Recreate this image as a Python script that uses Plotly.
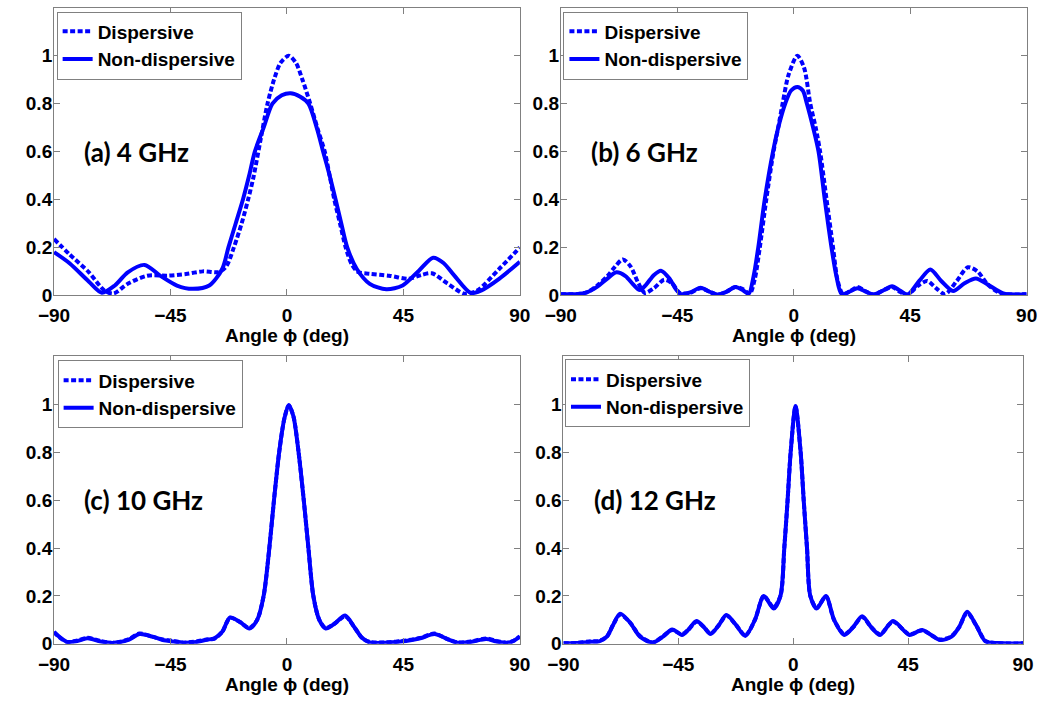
import plotly.graph_objects as go

# ---------------- data: normalised array factor vs. angle ----------------
# (a) 4 GHz
ang_a_disp = [-90, -84, -76.5, -70.5, -67, -61.5, -54, -46, -39, -32.5, -26.5, -23.5, -20.5, -17.5, -15,
              -13, -10, -7.5, -5, -2.5, 0.7, 3.5, 6, 9, 12, 14.6, 16.5, 18.3, 20.5, 22.7, 25, 27.5, 32,
              39.5, 47, 52, 56, 62, 68.5, 73.5, 82, 90]
val_a_disp = [0.235, 0.171, 0.096, 0.02, 0.008, 0.048, 0.082, 0.082, 0.089, 0.1, 0.097, 0.12, 0.2, 0.3, 0.4,
              0.49, 0.66, 0.8, 0.9, 0.97, 1.0, 0.97, 0.9, 0.8, 0.69, 0.6, 0.5, 0.4, 0.3, 0.2, 0.13, 0.097, 0.09,
              0.082, 0.069, 0.085, 0.092, 0.05, 0.007, 0.02, 0.11, 0.2]
ang_a_nond = [-90, -84, -76.5, -71.5, -66.5, -61.5, -55, -49, -42.5, -36.5, -30, -25, -22.6, -19.8, -17, -14.6,
              -12.4, -9, -5.6, -2, 1.4, 5, 8.3, 11.5, 14, 16.5, 18.8, 21, 23.3, 27, 32, 38.4, 44.7, 51, 56.5,
              60.5, 64.7, 71, 75, 82, 90]
val_a_nond = [0.18, 0.134, 0.057, 0.011, 0.041, 0.096, 0.127, 0.082, 0.041, 0.027, 0.041, 0.11, 0.2, 0.3, 0.4, 0.5,
              0.6, 0.7, 0.8, 0.835, 0.844, 0.83, 0.8, 0.7, 0.6, 0.5, 0.4, 0.3, 0.2, 0.11, 0.048, 0.025, 0.041, 0.103,
              0.157, 0.135, 0.082, 0.01, 0.02, 0.069, 0.14]

# (b) 6 GHz
ang_b_disp = [-90, -84, -80, -76, -72, -69, -66, -63, -60, -57.5, -54, -50, -47, -44, -40, -36, -32.5, -29.4,
              -26, -22.5, -19.5, -17, -15, -13.1, -10.6, -7.8, -6, -4.3, -2, 1.4, 4, 6.4, 8.5, 10.2, 12.7, 15.2,
              17, 19, 21.5, 24.6, 28, 31, 34.5, 38, 41, 44, 48, 51.6, 55, 58.5, 63, 67.3, 71, 75, 80, 90]
val_b_disp = [0.005, 0.005, 0.012, 0.04, 0.08, 0.12, 0.15, 0.12, 0.05, 0.01, 0.03, 0.065, 0.05, 0.01, 0.01, 0.03,
              0.015, 0.003, 0.015, 0.035, 0.025, 0.006, 0.07, 0.2, 0.4, 0.6, 0.7, 0.8, 0.92, 1.0, 0.95, 0.8, 0.7,
              0.6, 0.4, 0.2, 0.06, 0.005, 0.015, 0.035, 0.015, 0.003, 0.02, 0.035, 0.015, 0.003, 0.04, 0.06, 0.03,
              0.005, 0.06, 0.117, 0.1, 0.045, 0.008, 0.005]
ang_b_nond = [-90, -84, -80, -76, -72, -68.5, -65, -62, -59.5, -57, -54, -51.3, -48, -45.5, -43.5, -40, -36, -32.5,
              -29.4, -26, -22.5, -19.5, -17.4, -15.5, -13.7, -11.2, -8, -5.5, -3.3, -1, 1.4, 3.5, 5.1, 7.5, 9.6,
              12, 14.6, 16.5, 18.5, 21.5, 24.6, 28, 31, 34.5, 38, 41, 44, 48.5, 52.8, 57, 61.6, 66, 70.4, 75, 81, 90]
val_b_nond = [0.005, 0.005, 0.012, 0.035, 0.07, 0.096, 0.08, 0.045, 0.022, 0.045, 0.085, 0.103, 0.07, 0.025, 0.005,
              0.012, 0.032, 0.015, 0.003, 0.015, 0.035, 0.02, 0.006, 0.08, 0.2, 0.4, 0.6, 0.72, 0.8, 0.855, 0.87,
              0.855, 0.8, 0.7, 0.6, 0.4, 0.2, 0.08, 0.006, 0.015, 0.03, 0.015, 0.003, 0.02, 0.038, 0.02, 0.003,
              0.06, 0.108, 0.06, 0.018, 0.05, 0.07, 0.045, 0.008, 0.005]

# (c) 10 GHz
ang_c_disp = [-90, -88, -85, -81, -77, -72, -67, -61, -57, -52, -48, -44, -40, -35, -31, -28, -25, -22, -18, -14.5,
              -11.5, -9, -6.8, -5, -3, -1, 0.7, 2.5, 4.5, 6.5, 8.3, 10.2, 12.5, 15, 18.5, 22.5, 26, 29, 32, 38, 46,
              51.5, 57, 62, 66, 71, 77, 81, 85, 88, 90]
val_c_disp = [0.05, 0.028, 0.008, 0.014, 0.025, 0.012, 0.004, 0.02, 0.043, 0.03, 0.018, 0.012, 0.005, 0.01, 0.018,
              0.022, 0.05, 0.108, 0.09, 0.066, 0.1, 0.2, 0.4, 0.6, 0.8, 0.94, 0.995, 0.95, 0.8, 0.6, 0.4, 0.2, 0.1,
              0.066, 0.085, 0.115, 0.07, 0.025, 0.008, 0.006, 0.014, 0.025, 0.043, 0.02, 0.006, 0.01, 0.022, 0.012,
              0.005, 0.015, 0.032]
ang_c_nond = [-90, -88, -85, -81, -77, -72, -67, -61, -57, -52, -48, -44, -40, -35, -31, -28, -25, -22, -18, -14.5,
              -11.5, -9, -6.8, -5, -3, -1, 0.7, 2.5, 4.5, 6.5, 8.3, 10.2, 12.5, 15, 18.5, 22.5, 26, 29, 32, 38, 46,
              51.5, 57, 62, 66, 71, 77, 81, 85, 88, 90]
val_c_nond = [0.048, 0.03, 0.008, 0.012, 0.023, 0.01, 0.004, 0.018, 0.041, 0.03, 0.016, 0.01, 0.005, 0.008, 0.017,
              0.023, 0.05, 0.11, 0.09, 0.064, 0.1, 0.2, 0.4, 0.6, 0.8, 0.94, 0.997, 0.95, 0.8, 0.6, 0.4, 0.2, 0.1,
              0.064, 0.085, 0.118, 0.07, 0.025, 0.006, 0.005, 0.012, 0.023, 0.041, 0.02, 0.005, 0.008, 0.02, 0.01,
              0.004, 0.015, 0.03]

# (d) 12 GHz
ang_d_disp = [-90, -85, -80, -76, -73, -70.5, -67.8, -64, -60, -55, -51, -47.4, -43.6, -41, -37.9, -35, -32.4, -29,
              -26.2, -22.5, -18.8, -15, -11.5, -7.7, -5, -3.5, -2.2, -1, 0.9, 2.9, 4.1, 5.4, 6.7, 9.2, 12.8, 16, 20,
              23.5, 27, 30.5, 34, 39.1, 45.5, 50.5, 57.5, 62, 65, 68.1, 71.5, 75.3, 80, 90]
val_d_disp = [0.002, 0.004, 0.01, 0.012, 0.03, 0.08, 0.122, 0.09, 0.032, 0.006, 0.032, 0.058, 0.04, 0.06, 0.092,
              0.07, 0.043, 0.08, 0.118, 0.08, 0.035, 0.1, 0.2, 0.152, 0.2, 0.4, 0.6, 0.8, 0.99, 0.8, 0.6, 0.4, 0.2,
              0.15, 0.198, 0.1, 0.04, 0.07, 0.112, 0.07, 0.04, 0.092, 0.04, 0.056, 0.018, 0.032, 0.07, 0.13, 0.08,
              0.012, 0.003, 0.002]
ang_d_nond = [-90, -85, -80, -76, -73, -70.5, -67.8, -64, -60, -55, -51, -47.4, -43.6, -41, -37.9, -35, -32.4, -29,
              -26.2, -22.5, -18.8, -15, -11.5, -7.7, -5, -3.5, -2.2, -1, 0.9, 2.9, 4.1, 5.4, 6.7, 9.2, 12.8, 16, 20,
              23.5, 27, 30.5, 34, 39.1, 45.5, 50.5, 57.5, 62, 65, 68.1, 71.5, 75.3, 80, 90]
val_d_nond = [0.002, 0.003, 0.008, 0.01, 0.03, 0.08, 0.126, 0.09, 0.03, 0.005, 0.03, 0.06, 0.037, 0.06, 0.095,
              0.07, 0.041, 0.08, 0.12, 0.08, 0.033, 0.1, 0.2, 0.147, 0.2, 0.4, 0.6, 0.8, 0.993, 0.8, 0.6, 0.4, 0.2,
              0.147, 0.2, 0.1, 0.037, 0.07, 0.115, 0.07, 0.037, 0.095, 0.037, 0.058, 0.016, 0.03, 0.07, 0.134, 0.08,
              0.01, 0.003, 0.002]

panel_labels = ["(a) 4 GHz", "(b) 6 GHz", "(c) 10 GHz", "(d) 12 GHz"]
series_names = ["Dispersive", "Non-dispersive"]
x_ticks = [-90, -45, 0, 45, 90]
y_ticks = [0, 0.2, 0.4, 0.6, 0.8, 1]
y_tick_text = ["0", "0.2", "0.4", "0.6", "0.8", "1"]
x_title = "Angle ϕ (deg)"

# ---------------- layout geometry ----------------
W, H = 1062, 707
panels = [
    # (x0, x1, ytop, ybottom) in pixels
    (39, 517, 8, 300),
    (559, 1037, 8, 300),
    (39, 517, 362, 654),
    (561.7, 1033.3, 362, 654),
]
legend_pos = [(41.7, 11.7), (561.7, 11.7), (42.7, 366), (563.3, 365)]
data = [
    (ang_a_disp, val_a_disp, ang_a_nond, val_a_nond),
    (ang_b_disp, val_b_disp, ang_b_nond, val_b_nond),
    (ang_c_disp, val_c_disp, ang_c_nond, val_c_nond),
    (ang_d_disp, val_d_disp, ang_d_nond, val_d_nond),
]

BLUE = "#0000ff"
FRAME = "#808080"
TICK_FONT = dict(family="Liberation Sans, Arial", size=19, color="black", weight="bold")
LABEL_FONT = dict(family="Lato, Open Sans, sans-serif", size=26, color="black", weight="bold")

fig = go.Figure()
layout = dict(
    width=W, height=H, margin=dict(l=0, r=0, t=0, b=0),
    paper_bgcolor="white", plot_bgcolor="white",
    annotations=[], showlegend=True,
)

for i, ((x0, x1, yt, yb), (xd, yd, xn, yn)) in enumerate(zip(panels, data)):
    n = "" if i == 0 else str(i + 1)
    xa, ya = "x" + n, "y" + n
    lg = "legend" + n
    fig.add_trace(go.Scatter(
        x=xd, y=yd, mode="lines", name=series_names[0], xaxis=xa, yaxis=ya, legend=lg,
        line=dict(color=BLUE, width=4, dash="5px,2.5px", shape="spline", smoothing=0.8),
    ))
    fig.add_trace(go.Scatter(
        x=xn, y=yn, mode="lines", name=series_names[1], xaxis=xa, yaxis=ya, legend=lg,
        line=dict(color=BLUE, width=4, shape="spline", smoothing=0.8),
    ))
    axis_common = dict(
        showline=True, linecolor=FRAME, linewidth=1, mirror="ticks",
        ticks="inside", ticklen=6, tickcolor=FRAME, tickwidth=1,
        showgrid=False, zeroline=False, tickfont=TICK_FONT, fixedrange=True,
    )
    layout["xaxis" + n] = dict(
        axis_common, domain=[x0 / W, x1 / W], range=[-90, 90],
        tickmode="array", tickvals=x_ticks, anchor=ya, ticklabelstandoff=3,
    )
    layout["yaxis" + n] = dict(
        axis_common, domain=[1 - yb / H, 1 - yt / H], range=[0, 1.2],
        tickmode="array", tickvals=y_ticks, ticktext=y_tick_text, anchor=xa,
        ticklabelstandoff=-3,
    )
    lx, ly = legend_pos[i]
    layout[lg] = dict(
        x=lx / W, y=1 - ly / H, xanchor="left", yanchor="top",
        bgcolor="white", bordercolor=FRAME, borderwidth=1,
        font=dict(family="Liberation Sans, Arial", size=19, color="black", weight="bold"),
        tracegroupgap=0, itemwidth=30,
    )
    # panel label inside the plot area
    layout["annotations"].append(dict(
        x=-79, y=0.6, xref=xa, yref=ya, text=panel_labels[i], showarrow=False,
        xanchor="left", yanchor="middle", font=LABEL_FONT,
    ))
    # x-axis title
    layout["annotations"].append(dict(
        x=(x0 + x1) / 2 / W, y=1 - (yb + 41) / H, xref="paper", yref="paper",
        text=x_title, showarrow=False, xanchor="center", yanchor="middle",
        font=dict(family="Liberation Sans, Arial", size=19, color="black", weight="bold"),
    ))

fig.update_layout(**layout)
fig.write_html("out.html")
